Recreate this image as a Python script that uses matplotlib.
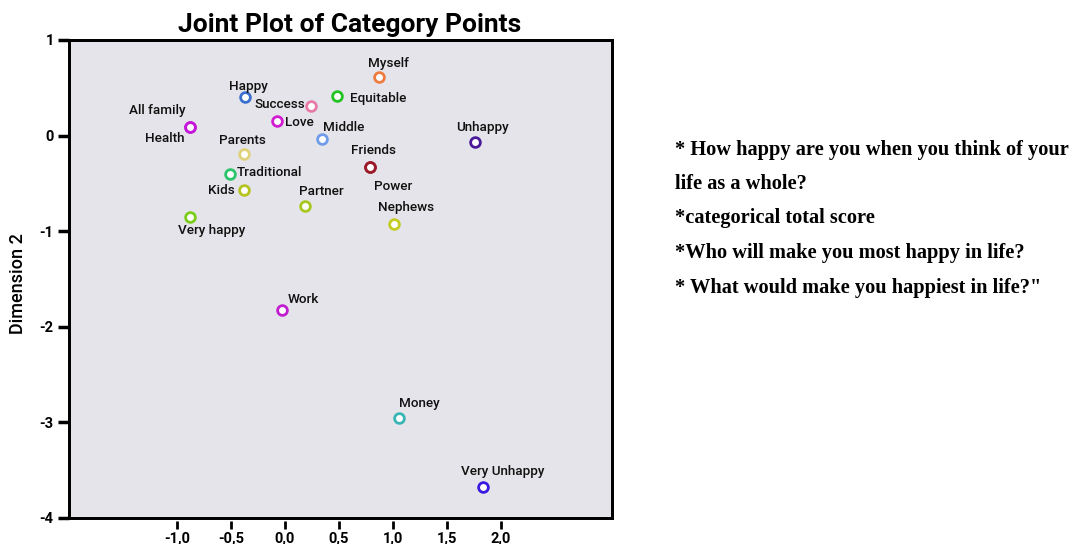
import matplotlib
matplotlib.use("Agg")
import matplotlib.pyplot as plt

# ---- data ----
categories = ["Myself", "Happy", "Equitable", "Success", "All family", "Health", "Love",
              "Middle", "Unhappy", "Parents", "Friends", "Power", "Traditional", "Kids",
              "Partner", "Very happy", "Nephews", "Work", "Money", "Very Unhappy"]
dim1 = [0.87, -0.37, 0.48, 0.24, -0.88, -0.88, -0.07, 0.34, 1.76, -0.38, 0.79, 0.79,
        -0.51, -0.38, 0.19, -0.88, 1.01, -0.03, 1.06, 1.84]
dim2 = [0.61, 0.40, 0.41, 0.31, 0.09, 0.09, 0.15, -0.04, -0.07, -0.19, -0.33, -0.33,
        -0.40, -0.57, -0.74, -0.85, -0.93, -1.82, -2.95, -3.68]
colors = ["#f07b3f", "#3a6fd0", "#22c322", "#e87aa8", "#c417d8", "#c417d8", "#d21cd2",
          "#6f9be8", "#4a1a9a", "#e0d27a", "#9b1b2b", "#9b1b2b", "#2bc46a", "#b5c420",
          "#a8c820", "#7ccc1a", "#c4cc20", "#c01ed0", "#3ab5b5", "#3a1ae0"]
xtick_values = [-1.0, -0.5, 0.0, 0.5, 1.0, 1.5, 2.0]
xtick_labels = ["-1,0", "-0,5", "0,0", "0,5", "1,0", "1,5", "2,0"]
ytick_values = [1, 0, -1, -2, -3, -4]
ytick_labels = ["1", "0", "-1", "-2", "-3", "-4"]
title = "Joint Plot of Category Points"
ylabel = "Dimension 2"
notes = ["* How happy are you when you think of your",
         "life as a whole?",
         "*categorical total score",
         "*Who will make you most happy in life?",
         "* What would make you happiest in life?\""]

# ---- label layout (pixel offsets, alignment) ----
label_pos = {
    "Myself": (10, 14, "center"), "Happy": (4, 11, "center"), "Equitable": (13, -2, "left"),
    "Success": (-6, 1, "right"), "All family": (-33, 16, "center"), "Health": (-25, -12, "center"),
    "Love": (8, -1, "left"), "Middle": (1, 12, "left"), "Unhappy": (8, 15, "center"),
    "Parents": (-1, 13, "center"), "Friends": (3, 17, "center"), "Power": (23, -19, "center"),
    "Traditional": (7, 1, "left"), "Kids": (-9, 0, "right"), "Partner": (16, 15, "center"),
    "Very happy": (22, -14, "center"), "Nephews": (12, 17, "center"), "Work": (6, 10, "left"),
    "Money": (20, 14, "center"), "Very Unhappy": (19, 16, "center"),
}

plt.rcParams['font.family'] = ['Roboto', 'DejaVu Sans']

fig = plt.figure(figsize=(10.73, 5.44), dpi=100)
ax = fig.add_axes([0.0643, 0.0478, 0.506, 0.8787])
ax.set_facecolor("#e4e4ea")
ax.set_xlim(-2.0, 3.03)
ax.set_ylim(-4, 1)

for x, y, c, name in zip(dim1, dim2, colors, categories):
    ax.plot([x], [y], marker="o", ms=7, mew=2, mec=c, mfc="white", ls="none", zorder=3)
    dx, dy, ha = label_pos[name]
    ax.annotate(name, (x, y), xytext=(dx, dy), textcoords="offset pixels",
                ha=ha, va="center", fontsize=9.7, fontweight="medium", color="#111111")

# frame
for s in ["top", "right", "left"]:
    ax.spines[s].set_linewidth(2)
ax.spines["bottom"].set_position(("outward", 2))
ax.spines["bottom"].set_bounds(-1.0, 2.0)
ax.spines["bottom"].set_visible(False)
ax.patch.set_edgecolor("black")
ax.patch.set_linewidth(2)
ax.axhline(-4, color="black", lw=2, clip_on=False)

ax.set_xticks(xtick_values, xtick_labels)
ax.set_yticks(ytick_values, ytick_labels)
ax.tick_params(axis="x", direction="out", length=6, width=2, pad=2, labelsize=10.5)
ax.tick_params(axis="y", direction="out", length=8, width=2.5, pad=3, labelsize=10.5)
for lab in ax.get_xticklabels() + ax.get_yticklabels():
    lab.set_fontweight("bold")

ax.set_title(title, fontsize=19, fontweight="bold", pad=6, x=0.5175)
ax.set_ylabel(ylabel, fontsize=13, fontweight="medium")
ax.yaxis.set_label_coords(-0.077, 0.49)

ys = [150, 184, 218, 253, 288]
for t, yp in zip(notes, ys):
    fig.text(675 / 1073, 1 - yp / 544, t, fontsize=14.7, fontweight="bold",
             family="Liberation Serif", va="center", ha="left")

fig.savefig("out.png", dpi=100)
